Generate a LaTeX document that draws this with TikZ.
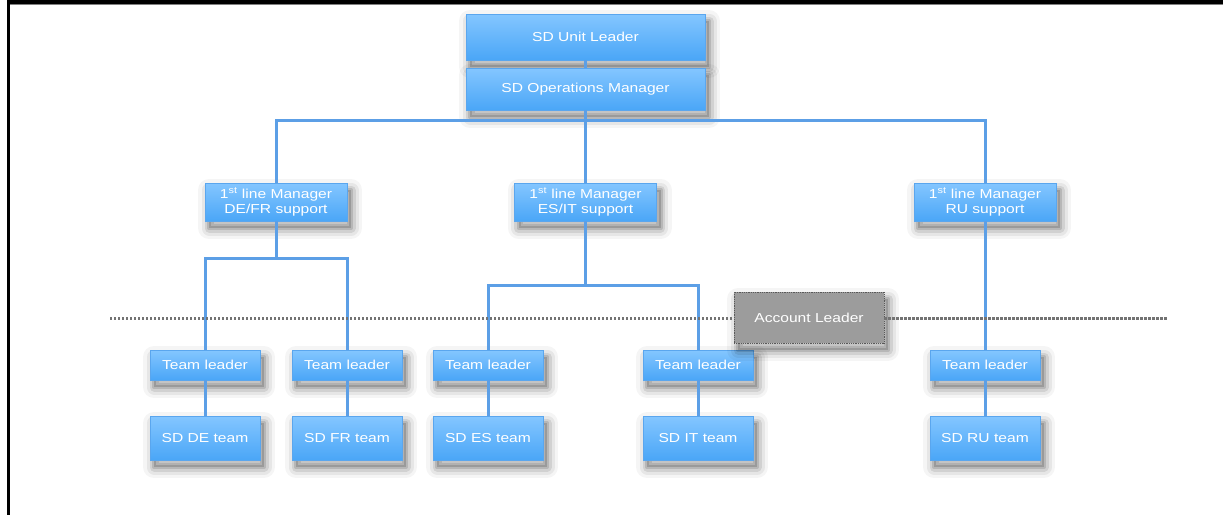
\documentclass[tikz,border=0pt]{standalone}
\usepackage{fontspec}
\setmainfont{Liberation Sans}
\newfontfamily\boxfont[FakeStretch=1.2]{Liberation Sans}
\definecolor{boxtop}{HTML}{84C6FF}
\definecolor{boxbot}{HTML}{4AA6F7}
\definecolor{boxline}{HTML}{5AA6EE}
\definecolor{linkblue}{HTML}{5C9FE6}
\definecolor{accgray}{HTML}{9C9C9C}
\tikzset{
  shadowlayer/.style={solid, line join=round, transform canvas={shift={(4pt,-7pt)}}},
  softshadow/.style={
    preaction={fill=black, opacity=0.15, shadowlayer},
    preaction={draw=black, line width=4pt, opacity=0.12, shadowlayer},
    preaction={draw=black, line width=9pt, opacity=0.09, shadowlayer},
    preaction={draw=black, line width=15pt, opacity=0.06, shadowlayer},
    preaction={draw=black, line width=22pt, opacity=0.04, shadowlayer}},
  orgbox/.style={rectangle, softshadow, draw=boxline, line width=0.6pt,
    top color=boxtop, bottom color=boxbot, text=white,
    font=\boxfont\fontsize{13}{16}\selectfont, align=center, inner sep=2pt},
  headbox/.style={orgbox, minimum width=239pt},
  mgrbox/.style={orgbox, minimum width=142pt, minimum height=38pt},
  leadbox/.style={orgbox, minimum width=110pt, minimum height=30pt},
  teambox/.style={orgbox, minimum width=110pt, minimum height=44pt},
  accbox/.style={rectangle, softshadow, draw=gray!70!black, densely dotted, line width=0.8pt,
    fill=accgray, text=white, font=\boxfont\fontsize{13}{16}\selectfont,
    minimum width=150pt, minimum height=51pt},
  link/.style={draw=linkblue, line width=3pt},
  boundary/.style={draw=black!55, line width=3pt, dash pattern=on 2.4pt off 1.6pt}
}
\begin{document}
\begin{tikzpicture}[x=1pt,y=-1pt]
  \useasboundingbox (0,0) rectangle (1223,515);
  \fill[white] (0,0) rectangle (1223,515);
  % window frame
  \fill[black] (7,0) rectangle (1223,4);
  \draw[gray, line width=0.8pt] (10,4.6) -- (1223,4.6);
  \fill[black] (7,0) rectangle (10,515);

  % boxes
  \node[headbox, minimum height=46pt] (unit) at (585.5,37) {SD Unit Leader};
  \node[headbox, minimum height=42pt] (ops) at (585.5,89) {SD Operations Manager};

  \node[mgrbox] (mDE) at (276,202) {1\textsuperscript{st} line Manager\\[-1pt]DE/FR support};
  \node[mgrbox] (mES) at (585.5,202) {1\textsuperscript{st} line Manager\\[-1pt]ES/IT support};
  \node[mgrbox] (mRU) at (985,202) {1\textsuperscript{st} line Manager\\[-1pt]RU support};

  \node[leadbox] (tlDE) at (205,365) {Team leader};
  \node[leadbox] (tlFR) at (347,365) {Team leader};
  \node[leadbox] (tlES) at (488,365) {Team leader};
  \node[leadbox] (tlIT) at (698,365) {Team leader};
  \node[leadbox] (tlRU) at (985,365) {Team leader};

  \node[teambox] (sdDE) at (205,438) {SD DE team};
  \node[teambox] (sdFR) at (347,438) {SD FR team};
  \node[teambox] (sdES) at (488,438) {SD ES team};
  \node[teambox] (sdIT) at (698,438) {SD IT team};
  \node[teambox] (sdRU) at (985,438) {SD RU team};

  \node[accbox] (acc) at (809,317.5) {Account Leader};

  % reporting lines
  \draw[link] (unit.south) -- (ops.north);
  \draw[link] (ops.south) -- ++(0,10) coordinate (bus);
  \draw[link] (mDE.north) |- (bus) -| (mRU.north);
  \draw[link] (bus) -- (mES.north);
  \draw[link] (mDE.south) -- ++(0,37) coordinate (busDE);
  \draw[link] (tlDE.north) |- (busDE) -| (tlFR.north);
  \draw[link] (mES.south) -- ++(0,64) coordinate (busES);
  \draw[link] (tlES.north) |- (busES) -| (tlIT.north);
  \draw[link] (mRU.south) -- (tlRU.north);
  \draw[link] (tlDE.south) -- (sdDE.north);
  \draw[link] (tlFR.south) -- (sdFR.north);
  \draw[link] (tlES.south) -- (sdES.north);
  \draw[link] (tlIT.south) -- (sdIT.north);
  \draw[link] (tlRU.south) -- (sdRU.north);

  % dotted boundary, broken by the account leader box
  \coordinate (lineL) at (110,318);
  \coordinate (lineR) at (1168,318);
  \draw[boundary] (lineL) -- (lineL -| acc.west);
  \draw[boundary] (lineR -| acc.east) -- (lineR);
\end{tikzpicture}
\end{document}
